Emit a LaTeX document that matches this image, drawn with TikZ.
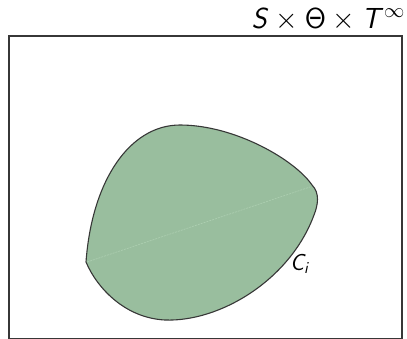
\RequirePackage{fix-cm}
\documentclass[tikz,border=0pt]{standalone}
\DeclareMathAlphabet{\mathsfit}{OT1}{cmss}{m}{sl}
\definecolor{blobfill}{RGB}{153,190,158}
\definecolor{seamcol}{RGB}{172,206,176}
\definecolor{edgecol}{RGB}{55,55,55}
\tikzset{
  frame/.style={draw=edgecol, line width=1.3pt},
  blob/.style={fill=blobfill, draw=edgecol, line width=1.1pt, line join=round},
  seam/.style={draw=seamcol, line width=0.7pt, dash pattern=on 2pt off 1pt},
  lbl/.style={inner sep=0pt, font=\fontsize{29}{31}\selectfont},
}
\begin{document}
\begin{tikzpicture}[x=1pt,y=-1pt]
\useasboundingbox (0,0) rectangle (407,338);
\draw[frame] (9,36) rectangle (402,339);
\path[blob] (86,262) .. controls (92,180) and (130,125) .. (180,125)
  .. controls (235,125) and (295,160) .. (312,185)
  .. controls (320,193) and (318,205) .. (314,215)
  .. controls (290,280) and (220,322) .. (165,320)
  .. controls (125,318) and (97,288) .. (86,262) -- cycle;
\coordinate (sl) at (87,262);
\coordinate (sr) at (310,187);
\draw[seam] (sl) -- (sr);
\node[lbl, anchor=base east] (title) at (405,28) {$\mathsfit{S}\times\mathsf{\Theta}\times\mathsfit{T}^{\infty}$};
\node[lbl, anchor=base west, font=\fontsize{23}{25}\selectfont] (ci) at (290,270) {$\mathsfit{C}_{\mathsfit{i}}$};
\end{tikzpicture}
\end{document}
